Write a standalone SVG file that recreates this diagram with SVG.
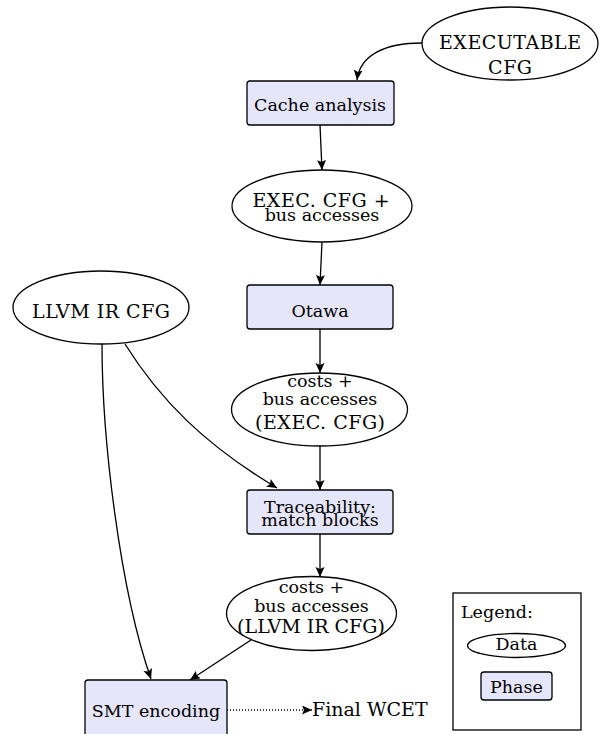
<svg xmlns="http://www.w3.org/2000/svg" width="600" height="734" viewBox="0 0 600 734" font-family="'DejaVu Serif', serif">
<defs>
<style>
text{font-family:'DejaVu Serif','Liberation Serif',serif;font-size:17.5px;fill:#000;text-anchor:middle}
.cap{font-size:19px;letter-spacing:0.5px}
.cap0{font-size:19px}
.data{fill:#fff;stroke:#000;stroke-width:1.3}
.phase{fill:#e6e6fb;stroke:#000;stroke-width:1.3}
.conn{fill:none;stroke:#000;stroke-width:1.3;marker-end:url(#arr)}
.dot{fill:none;stroke:#000;stroke-width:1.3;stroke-dasharray:1 2;marker-end:url(#arr)}
</style>
<marker id="arr" markerUnits="userSpaceOnUse" markerWidth="11" markerHeight="10" refX="10" refY="4.5" orient="auto">
<path d="M0,0 L10,4.5 L0,9 L2,4.5 z" fill="#000"/>
</marker>
</defs>
<rect width="600" height="734" fill="#fff"/>
<g id="connectors">
<path class="conn" d="M422,43 C385,43 360,55 357,80"/>
<path class="conn" d="M320,125 L322,170"/>
<path class="conn" d="M322,242 L320,285"/>
<path class="conn" d="M320,329 L320,373"/>
<path class="conn" d="M320,446 L320,490"/>
<path class="conn" d="M125,344 C160,400 205,445 277,488"/>
<path class="conn" d="M102,344 C102,440 120,590 151,679"/>
<path class="conn" d="M320,534 L320,577"/>
<path class="conn" d="M251,640 L190,680"/>
<path class="dot" d="M227,710 L312,710"/>
</g>
<g id="executable">
<ellipse class="data" cx="510" cy="43.5" rx="88" ry="36.5"/>
<text class="cap" x="510.3" y="49">EXECUTABLE</text>
<text class="cap" x="510.3" y="74">CFG</text>
</g>
<g id="cache">
<rect class="phase" x="247" y="81" width="147" height="44" rx="3"/>
<text x="320" y="111">Cache analysis</text>
</g>
<g id="execbus">
<ellipse class="data" cx="322" cy="206" rx="90" ry="36"/>
<text class="cap" x="321.3" y="207">EXEC. CFG +</text>
<text x="322" y="220.5">bus accesses</text>
</g>
<g id="otawa">
<rect class="phase" x="247" y="285" width="146" height="44" rx="3"/>
<text x="320" y="316.5">Otawa</text>
</g>
<g id="llvm">
<ellipse class="data" cx="101" cy="307.5" rx="88" ry="36.5"/>
<text class="cap" x="101.3" y="317.5">LLVM IR CFG</text>
</g>
<g id="costs-exec">
<ellipse class="data" cx="319.5" cy="409.5" rx="88" ry="36.5"/>
<text x="320" y="387">costs +</text>
<text x="320" y="405">bus accesses</text>
<text class="cap" x="320.3" y="429">(EXEC. CFG)</text>
</g>
<g id="trace">
<rect class="phase" x="247" y="490" width="146" height="44" rx="3"/>
<text x="320" y="513">Traceability:</text>
<text x="320" y="525.5">match blocks</text>
</g>
<g id="costs-llvm">
<ellipse class="data" cx="311.5" cy="613.5" rx="85" ry="37"/>
<text x="311.5" y="593">costs +</text>
<text x="311.5" y="611.5">bus accesses</text>
<text class="cap0" x="311" y="633">(LLVM IR CFG)</text>
</g>
<g id="smt">
<rect class="phase" x="85" y="680" width="142" height="62" rx="3"/>
<text x="156" y="716.5">SMT encoding</text>
</g>
<g id="wcet">
<text class="cap0" x="312" y="715.5" style="text-anchor:start">Final WCET</text>
</g>
<g id="legend">
<rect x="453" y="593" width="128" height="137" fill="#fff" stroke="#000" stroke-width="1.3"/>
<text x="461" y="618" style="text-anchor:start">Legend:</text>
<ellipse class="data" cx="516.5" cy="645.5" rx="49" ry="12"/>
<text x="516.5" y="649.5">Data</text>
<rect class="phase" x="481" y="672" width="71" height="28" rx="3"/>
<text x="516.5" y="692.5">Phase</text>
</g>
</svg>
